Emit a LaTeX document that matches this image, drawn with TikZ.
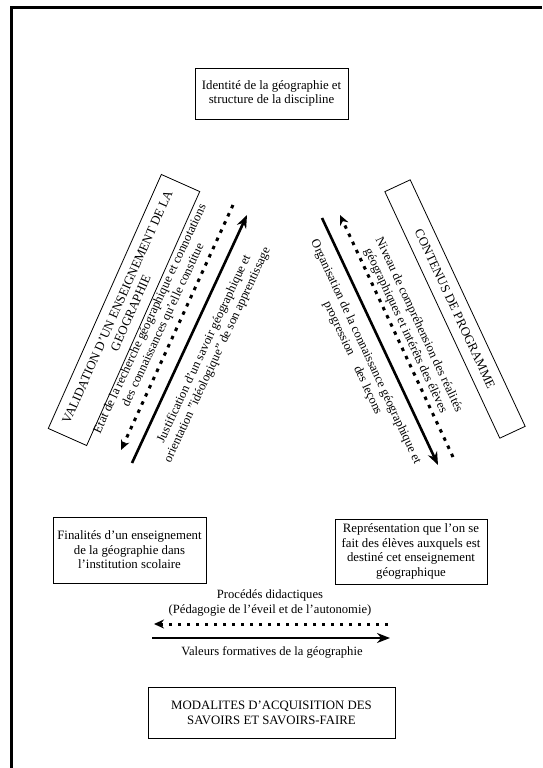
\documentclass[tikz,border=0pt]{standalone}
\usepackage{fontspec}
\setmainfont{Liberation Serif}
\usetikzlibrary{arrows.meta}
\begin{document}
\begin{tikzpicture}[x=1pt,y=1pt,
  box/.style={draw, line width=0.8pt, align=center, inner sep=1pt, font=\fontsize{12.8}{14.5}\selectfont},
  lbl/.style={align=center, font=\fontsize{12.6}{14.5}\selectfont, inner sep=0pt},
  solidarrow/.style={line width=2.6pt, -{Stealth[length=13pt,width=10pt]}},
  dotarrow/.style={line width=3pt, dash pattern=on 3.5pt off 5.5pt, -{Stealth[length=10pt,width=9pt]}},
]
\useasboundingbox (0,0) rectangle (542,-768);
\fill[white] (0,0) rectangle (542,-768);
\draw[line width=3pt] (11,-768) -- (11,-8) -- (542,-8);

\node[box, minimum width=153pt, minimum height=51pt] (ident) at (271.5,-93.5) {Identité de la géographie et\\structure de la discipline};

\node[box, minimum width=278pt, minimum height=42pt, rotate=66] (valid) at (124,-310) {VALIDATION D'UN ENSEIGNEMENT DE LA\\GEOGRAPHIE};
\node[box, minimum width=272pt, minimum height=28pt, rotate=-65] (cont) at (455,-309) {CONTENUS DE PROGRAMME};

\coordinate (ld1) at (233,-205); \coordinate (ld2) at (121,-450);
\coordinate (ls1) at (132,-463); \coordinate (ls2) at (247,-215);
\coordinate (rd1) at (453,-457); \coordinate (rd2) at (340,-215);
\coordinate (rs1) at (322,-218); \coordinate (rs2) at (438,-465);
\draw[dotarrow] (ld1) -- (ld2);
\draw[solidarrow] (ls1) -- (ls2);
\draw[dotarrow] (rd1) -- (rd2);
\draw[solidarrow] (rs1) -- (rs2);

\node[lbl, rotate=65] (etat) at (157,-322) {Etat de la recherche géographique et connotations\\des connaissances qu'elle constitue};
\node[lbl, rotate=65] (justif) at (211,-352) {Justification d'un savoir géographique et\\orientation "idéologique" de son apprentissage};
\node[lbl, rotate=-65] (niveau) at (412,-328) {Niveau de compréhension des réalités\\géographiques et intérêts des élèves};
\node[lbl, rotate=-65] (organ) at (359,-355) {Organisation de la connaissance géographique et\\progression\quad des leçons};

\node[box, minimum width=153pt, minimum height=66pt] (final) at (129.5,-550) {Finalités d'un enseignement\\de la géographie dans\\l'institution scolaire};
\node[box, minimum width=152pt, minimum height=65pt] (repr) at (411,-551.5) {Représentation que l'on se\\fait des élèves auxquels est\\destiné cet enseignement\\géographique};

\node[lbl] (proc) at (270,-603) {Procédés didactiques\\(Pédagogie de l'éveil et de l'autonomie)};
\coordinate (hd1) at (388,-624); \coordinate (hd2) at (154,-624);
\coordinate (hs1) at (152,-638); \coordinate (hs2) at (390,-638);
\draw[dotarrow] (hd1) -- (hd2);
\draw[solidarrow] (hs1) -- (hs2);
\node[lbl] (valeurs) at (272,-652) {Valeurs formatives de la géographie};

\node[box, minimum width=247pt, minimum height=51pt, font=\fontsize{12.8}{15}\selectfont] (modal) at (271.5,-712.5) {MODALITES D'ACQUISITION DES\\SAVOIRS ET SAVOIRS-FAIRE};
\end{tikzpicture}
\end{document}
